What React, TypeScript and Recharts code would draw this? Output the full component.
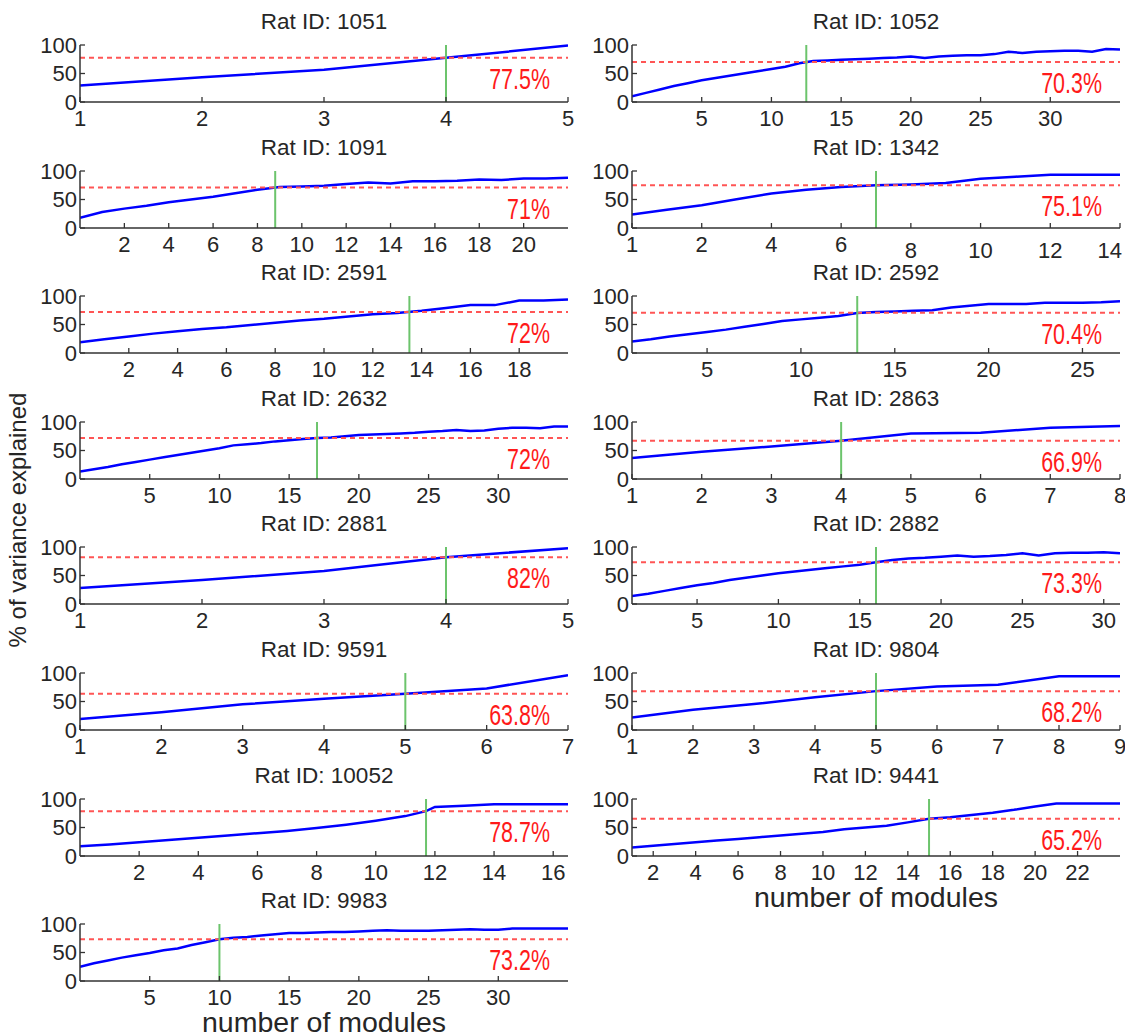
import React from "react";
import { LineChart, Line, XAxis, YAxis, ReferenceLine } from "recharts";

const FONT = "'Liberation Sans', Arial, Helvetica, sans-serif";

// subplots in reading order (left, right, left, right ...)
const ratIds = ["1051", "1052", "1091", "1342", "2591", "2592", "2632", "2863", "2881", "2882", "9591", "9804", "10052", "9441", "9983"];
const thresholds = [77.5, 70.3, 71, 75.1, 72, 70.4, 72, 66.9, 82, 73.3, 63.8, 68.2, 78.7, 65.2, 73.2];
const crossings = [4, 12.5, 8.8, 4.5, 13.5, 13, 17, 4, 4, 16, 5, 5, 11.7, 15, 10];
const xDomains = [[1, 5], [0, 35], [0, 22], [1, 8], [0, 20], [1, 27], [0, 35], [1, 8], [1, 5], [1, 31], [1, 7], [1, 9], [0, 16.5], [1, 24], [0, 35]];
const xTicks = [
  [1, 2, 3, 4, 5],
  [5, 10, 15, 20, 25, 30],
  [2, 4, 6, 8, 10, 12, 14, 16, 18, 20],
  [1, 2, 3, 4, 5, 6, 7, 8],
  [2, 4, 6, 8, 10, 12, 14, 16, 18],
  [5, 10, 15, 20, 25],
  [5, 10, 15, 20, 25, 30],
  [1, 2, 3, 4, 5, 6, 7, 8],
  [1, 2, 3, 4, 5],
  [5, 10, 15, 20, 25, 30],
  [1, 2, 3, 4, 5, 6, 7],
  [1, 2, 3, 4, 5, 6, 7, 8, 9],
  [2, 4, 6, 8, 10, 12, 14, 16],
  [2, 4, 6, 8, 10, 12, 14, 16, 18, 20, 22],
  [5, 10, 15, 20, 25, 30],
];
// 1342 has hand-set labels on evenly spaced ticks
const labels1342 = ["1", "2", "4", "6", "8", "10", "12", "14"];
const yTicks = [0, 50, 100];

// % variance explained per subplot
const v1051 = [29, 43.5, 56.5, 77.5, 99];
const v1052 = [10, 16, 22, 28, 33, 38, 42, 46, 50, 54, 58, 62, 68, 72, 73, 74, 75, 76, 77, 78, 80, 77, 80, 81, 82, 82, 84, 88, 86, 88, 89, 90, 90, 88, 93, 92];
const v1091 = [18, 28, 34, 39, 45, 50, 55, 61, 67, 72, 73, 74, 77, 80, 78, 82, 82, 83, 85, 84, 87, 87, 88];
const v1342 = [23.5, 32, 40, 50.5, 60.5, 67, 72, 75.1, 76.5, 79, 86.5, 90, 93.5, 93.5, 93.5];
const v2591 = [19, 24, 29, 34, 38, 42, 45, 49, 53, 57, 60, 64, 68, 70, 74, 79, 84, 84, 92, 92, 94];
const v2592 = [20, 24, 29, 33, 37, 41, 46, 51, 56, 59, 62, 65, 70, 72, 73, 74, 75, 80, 83, 86, 86, 86, 88, 88, 88, 89, 91];
const v2632 = [13, 17, 21, 26, 30, 34, 38, 42, 46, 50, 54, 59, 61, 63, 66, 68, 70, 72, 73, 75, 77, 78, 79, 80, 81, 83, 84, 86, 84, 85, 88, 90, 90, 89, 92, 92];
const v2863 = [37, 48, 57, 66.9, 80, 81, 90, 93];
const v2881 = [28, 42, 58, 82, 98];
const v2882 = [14, 18, 23, 28, 33, 37, 42, 46, 50, 54, 57, 60, 63, 66, 69, 73.3, 77, 80, 81, 83, 85, 83, 84, 86, 89, 85, 89, 90, 90, 91, 89];
const v9591 = [19.5, 31, 45, 55, 63.8, 73, 96];
const v9804 = [22, 35.5, 45.5, 57.5, 68.2, 76.5, 79.5, 94.3, 94.3];
const v10052 = [17, 20, 24, 28, 32, 36, 40, 44, 49, 55, 62, 70, 78.7, 86, 88, 91, 91, 91, 91];
const v9441 = [15, 18, 21, 24, 27, 30, 33, 36, 39, 42, 47, 50, 53, 59, 65.2, 68, 72, 76, 81, 87, 92, 92, 92, 92];
const v9983 = [25, 31, 36, 41, 45, 49, 54, 57, 63, 68, 73.2, 76, 77, 80, 82, 84, 84, 85, 86, 86, 87, 88, 89, 88, 88, 88, 89, 90, 91, 90, 90, 92, 92, 92, 92, 92];

const x1342 = [1, 1.5, 2, 2.5, 3, 3.5, 4, 4.5, 5, 5.5, 6, 6.5, 7, 7.5, 8];
const x10052 = [0, 1, 2, 3, 4, 5, 6, 7, 8, 9, 10, 11, 11.7, 12, 13, 14, 15, 16, 16.5];

const series = [v1051, v1052, v1091, v1342, v2591, v2592, v2632, v2863, v2881, v2882, v9591, v9804, v10052, v9441, v9983];

function xValues(i: number): number[] {
  if (ratIds[i] === "1342") return x1342;
  if (ratIds[i] === "10052") return x10052;
  return series[i].map((_, k) => xDomains[i][0] + k);
}

// layout
const PLOT_LEFT = [80, 632];
const PLOT_W = 488;
const PLOT_TOP0 = 45;
const ROW_PITCH = 125.6;
const PLOT_H = 57;
const YW = 60;
const TOPM = 20;
const XH = 42;
const RM = 24;
const TM = 4; // tick margin

const AXIS = "#333";
const TXT = "#262626";
const TICK_FS = 22;

function XTick(props: any) {
  const { x, y, payload, rat } = props;
  const axisY = y - TM;
  let label = String(payload.value);
  let drop = 0;
  let anchor = "middle";
  let tx = x;
  if (rat === "1342") {
    const k = payload.value - 1;
    label = labels1342[k];
    if (k >= 4) drop = 6;
    if (k === labels1342.length - 1) {
      anchor = "end";
      tx = x + 2;
    }
  }
  return (
    <g>
      <line x1={x} x2={x} y1={axisY} y2={axisY - 5} stroke={AXIS} strokeWidth={1.3} />
      <text x={tx} y={axisY + 16 + drop} dy="0.35em" textAnchor={anchor} fontSize={TICK_FS} fontFamily={FONT} fill={TXT}>
        {label}
      </text>
    </g>
  );
}

function YTick(props: any) {
  const { x, y, payload } = props;
  const axisX = x + TM;
  return (
    <g>
      <line x1={axisX} x2={axisX + 5} y1={y} y2={y} stroke={AXIS} strokeWidth={1.3} />
      <text x={axisX - 3} y={y} dy="0.35em" textAnchor="end" fontSize={TICK_FS} fontFamily={FONT} fill={TXT}>
        {payload.value}
      </text>
    </g>
  );
}

function PctLabel(props: any) {
  const vb = props.viewBox || {};
  const ax = vb.x + vb.width - 18;
  const ay = vb.y + 21;
  return (
    <text transform={`translate(${ax},${ay}) scale(0.74,1)`} textAnchor="end" dy="0.35em" fontSize={29} fontFamily={FONT} fill="#ff1a1a">
      {props.text}
    </text>
  );
}

function Panel({ i }: { i: number }) {
  const col = i % 2;
  const row = Math.floor(i / 2);
  const plotLeft = PLOT_LEFT[col];
  const plotTop = PLOT_TOP0 + ROW_PITCH * row;
  const xs = xValues(i);
  const data = series[i].map((v, k) => ({ x: xs[k], y: v }));
  const rat = ratIds[i];
  return (
    <>
      <div
        style={{
          position: "absolute",
          left: plotLeft,
          top: plotTop - 36,
          width: PLOT_W,
          height: 26,
          lineHeight: "26px",
          textAlign: "center",
          fontSize: 22.5,
          fontFamily: FONT,
          color: TXT,
        }}
      >
        Rat ID: {rat}
      </div>
      <div style={{ position: "absolute", left: plotLeft - YW, top: plotTop - TOPM }}>
        <LineChart
          width={YW + PLOT_W + RM}
          height={TOPM + PLOT_H + XH}
          data={data}
          margin={{ top: TOPM, right: RM, bottom: 0, left: 0 }}
        >
          <XAxis
            type="number"
            dataKey="x"
            domain={xDomains[i]}
            ticks={xTicks[i]}
            allowDataOverflow
            height={XH}
            tickSize={0}
            tickMargin={TM}
            tickLine={false}
            axisLine={{ stroke: AXIS, strokeWidth: 1.5 }}
            interval={0}
            tick={<XTick rat={rat} />}
          />
          <YAxis
            type="number"
            domain={[0, 100]}
            ticks={yTicks}
            width={YW}
            tickSize={0}
            tickMargin={TM}
            tickLine={false}
            axisLine={{ stroke: AXIS, strokeWidth: 1.5 }}
            interval={0}
            tick={<YTick />}
          />
          <Line type="linear" dataKey="y" stroke="#0000ff" strokeWidth={2.5} dot={false} isAnimationActive={false} />
          <ReferenceLine
            y={thresholds[i]}
            stroke="#ff5555"
            strokeWidth={2}
            strokeDasharray="5 4"
            label={<PctLabel text={`${thresholds[i]}%`} />}
          />
          <ReferenceLine x={crossings[i]} stroke="#6cc46c" strokeWidth={2} />
        </LineChart>
      </div>
    </>
  );
}

const axisTitle = {
  position: "absolute" as const,
  width: PLOT_W,
  height: 28,
  lineHeight: "28px",
  textAlign: "center" as const,
  fontSize: 28.5,
  fontFamily: FONT,
  color: TXT,
};

export default function App() {
  return (
    <div style={{ position: "absolute", left: 0, top: 0, width: 1125, height: 1036, background: "#fff", overflow: "hidden" }}>
      {ratIds.map((_, i) => (
        <Panel key={i} i={i} />
      ))}
      <div
        style={{
          position: "absolute",
          left: 18,
          top: 520,
          transform: "translate(-50%, -50%) rotate(-90deg)",
          whiteSpace: "nowrap",
          fontSize: 24,
          lineHeight: "26px",
          fontFamily: FONT,
          color: TXT,
        }}
      >
        % of variance explained
      </div>
      <div style={{ ...axisTitle, left: PLOT_LEFT[1], top: 883 }}>number of modules</div>
      <div style={{ ...axisTitle, left: PLOT_LEFT[0], top: 1008 }}>number of modules</div>
    </div>
  );
}
